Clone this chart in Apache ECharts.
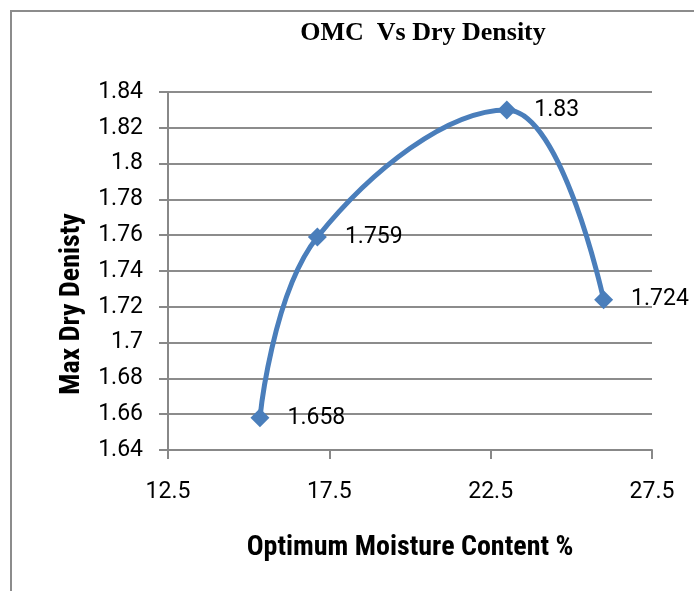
<!DOCTYPE html>
<html>
<head>
<meta charset="utf-8">
<script src="https://cdn.jsdelivr.net/npm/echarts@6/dist/echarts.min.js"></script>
<style>
  html, body { margin: 0; padding: 0; background: #fff; }
  #chart { width: 694px; height: 591px; }
</style>
</head>
<body>
<div id="chart"></div>
<script>
  // moisture content (%) vs max dry density
  var omc = [15.35, 17.13, 23.0, 26.0];
  var density = [1.658, 1.759, 1.83, 1.724];
  var xTicks = [12.5, 17.5, 22.5, 27.5];
  var yTicks = [1.64, 1.84, 0.02]; // min, max, step

  var narrow = '"Liberation Sans Narrow", "Roboto Condensed", "DejaVu Sans Condensed", "Liberation Sans", sans-serif';
  var plain = 'Roboto, "Liberation Sans", sans-serif';

  var chart = echarts.init(document.getElementById('chart'));
  var points = omc.map(function (x, i) { return [x, density[i]]; });

  var option = {
    animation: false,
    backgroundColor: '#fff',
    title: {
      text: 'OMC  Vs Dry Density',
      left: 418,
      top: 15,
      textAlign: 'center',
      textStyle: {
        fontFamily: '"Liberation Serif", "Times New Roman", serif',
        fontWeight: 'bold',
        fontSize: 26,
        color: '#000'
      }
    },
    graphic: [
      {
        type: 'rect',
        shape: { x: 11, y: 11, width: 800, height: 700 },
        style: { fill: 'none', stroke: '#8c8c8c', lineWidth: 2 },
        silent: true
      }
    ],
    grid: {
      left: 168,
      right: 42,
      top: 92,
      bottom: 141
    },
    xAxis: {
      type: 'value',
      min: xTicks[0],
      max: xTicks[xTicks.length - 1],
      interval: 5,
      name: 'Optimum Moisture Content %',
      nameLocation: 'middle',
      nameGap: 84,
      nameTextStyle: {
        fontFamily: narrow,
        fontWeight: 'bold',
        fontSize: 28,
        color: '#000'
      },
      axisLine: { show: true, lineStyle: { color: '#888', width: 2 } },
      axisTick: { show: true, length: 9, lineStyle: { color: '#888', width: 2 } },
      axisLabel: {
        margin: 31,
        fontFamily: plain,
        fontSize: 23,
        color: '#000',
        formatter: function (v) { return v.toFixed(1); }
      },
      splitLine: { show: false }
    },
    yAxis: {
      type: 'value',
      min: yTicks[0],
      max: yTicks[1],
      interval: yTicks[2],
      name: 'Max Dry Denisty',
      nameLocation: 'middle',
      nameGap: 82,
      nameTextStyle: {
        fontFamily: narrow,
        fontWeight: 'bold',
        fontSize: 28,
        color: '#000',
        padding: [0, 66, 0, 0]
      },
      axisLine: { show: true, lineStyle: { color: '#888', width: 2 } },
      axisTick: { show: true, length: 9, lineStyle: { color: '#888', width: 2 } },
      axisLabel: {
        margin: 25,
        fontFamily: plain,
        fontSize: 23,
        color: '#000',
        formatter: function (v) { return String(Math.round(v * 100) / 100); }
      },
      splitLine: { show: true, lineStyle: { color: '#8c8c8c', width: 2 } }
    },
    series: [
      {
        type: 'line',
        data: points,
        smooth: 0.4,
        symbol: 'diamond',
        symbolSize: 19,
        lineStyle: { color: '#4a7ebb', width: 5 },
        itemStyle: { color: '#4a7ebb' },
        label: {
          show: true,
          position: 'right',
          distance: 18,
          fontFamily: plain,
          fontSize: 23,
          color: '#000',
          formatter: function (p) { return String(p.value[1]); }
        }
      }
    ]
  };

  chart.setOption(option);
</script>
</body>
</html>
